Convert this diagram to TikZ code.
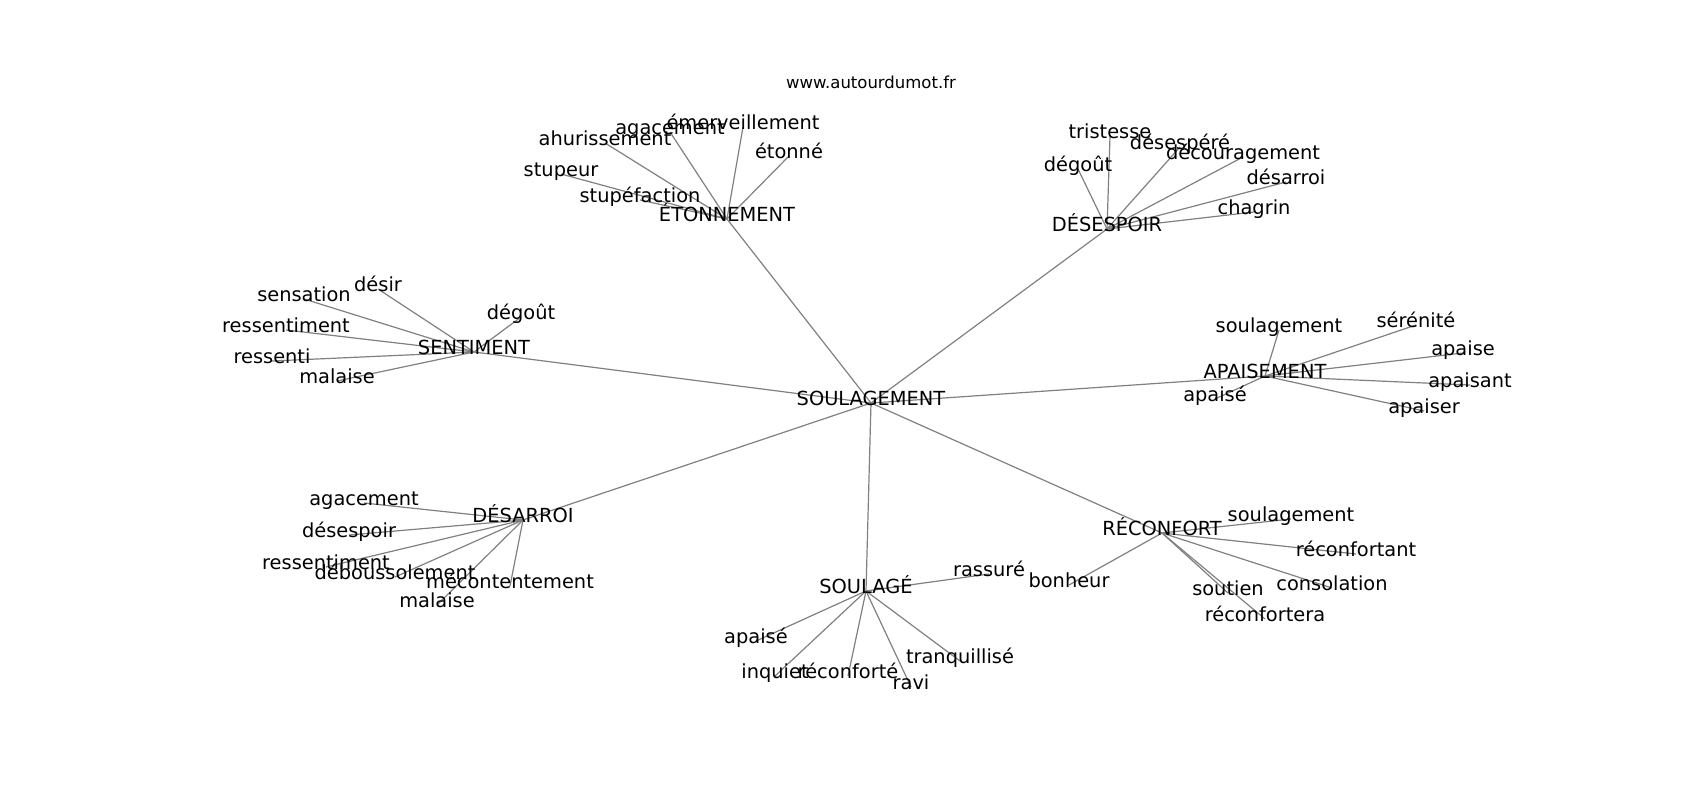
\documentclass[tikz,border=0pt]{standalone}
\usepackage{fontspec}
\setmainfont{DejaVu Sans}
\usetikzlibrary{backgrounds}
\begin{document}
\begin{tikzpicture}[x=1pt,y=-1pt,
  lbl/.style={inner sep=0pt,text height=0.66em,text depth=0.24em,font=\fontsize{19.4}{23}\selectfont,text=black},
  ttl/.style={inner sep=0pt,font=\fontsize{16.5}{20}\selectfont,text=black},
  edge/.style={draw=gray,line width=1.2pt}]
\useasboundingbox (0,0) rectangle (1700,800);
\node[ttl] (title) at (871,82) {www.autourdumot.fr};
\begin{scope}[yshift=-3pt]
% hubs
\node[lbl] (c) at (871,400) {SOULAGEMENT};
\node[lbl] (eto) at (727,216) {ÉTONNEMENT};
\node[lbl] (des) at (1107,226) {DÉSESPOIR};
\node[lbl] (sen) at (474,349) {SENTIMENT};
\node[lbl] (apa) at (1265,373) {APAISEMENT};
\node[lbl] (dsr) at (523,517) {DÉSARROI};
\node[lbl] (slg) at (866,588) {SOULAGÉ};
\node[lbl] (rec) at (1162,530) {RÉCONFORT};
% ETONNEMENT leaves
\node[lbl] (e1) at (561,171) {stupeur};
\node[lbl] (e2) at (605,140) {ahurissement};
\node[lbl] (e3) at (670,129) {agacement};
\node[lbl] (e4) at (743,124) {émerveillement};
\node[lbl] (e5) at (789,153) {étonné};
\node[lbl] (e6) at (640,197) {stupéfaction};
% DESESPOIR leaves
\node[lbl] (d1) at (1110,133) {tristesse};
\node[lbl] (d2) at (1078,166) {dégoût};
\node[lbl] (d3) at (1180,144) {désespéré};
\node[lbl] (d4) at (1243,154) {découragement};
\node[lbl] (d5) at (1286,179) {désarroi};
\node[lbl] (d6) at (1254,209) {chagrin};
% SENTIMENT leaves
\node[lbl] (s1) at (378,286) {désir};
\node[lbl] (s2) at (304,296) {sensation};
\node[lbl] (s3) at (521,314) {dégoût};
\node[lbl] (s4) at (286,327) {ressentiment};
\node[lbl] (s5) at (272,358) {ressenti};
\node[lbl] (s6) at (337,378) {malaise};
% APAISEMENT leaves
\node[lbl] (a1) at (1279,327) {soulagement};
\node[lbl] (a2) at (1416,322) {sérénité};
\node[lbl] (a3) at (1463,350) {apaise};
\node[lbl] (a4) at (1470,382) {apaisant};
\node[lbl] (a5) at (1424,408) {apaiser};
\node[lbl] (a6) at (1215,396) {apaisé};
% DESARROI leaves
\node[lbl] (r1) at (364,500) {agacement};
\node[lbl] (r2) at (349,532) {désespoir};
\node[lbl] (r3) at (326,564) {ressentiment};
\node[lbl] (r4) at (395,574) {déboussolement};
\node[lbl] (r5) at (510,583) {mécontentement};
\node[lbl] (r6) at (437,602) {malaise};
% SOULAGE leaves
\node[lbl] (g1) at (989,571) {rassuré};
\node[lbl] (g2) at (756,638) {apaisé};
\node[lbl] (g3) at (775,673) {inquiet};
\node[lbl] (g4) at (848,673) {réconforté};
\node[lbl] (g5) at (911,684) {ravi};
\node[lbl] (g6) at (960,658) {tranquillisé};
% RECONFORT leaves
\node[lbl] (f1) at (1291,516) {soulagement};
\node[lbl] (f2) at (1356,551) {réconfortant};
\node[lbl] (f3) at (1332,585) {consolation};
\node[lbl] (f4) at (1228,590) {soutien};
\node[lbl] (f5) at (1265,616) {réconfortera};
\node[lbl] (f6) at (1069,582) {bonheur};
\end{scope}
\begin{scope}[on background layer]
\foreach \a/\b in {c/eto,c/des,c/sen,c/apa,c/dsr,c/slg,c/rec,
  eto/e1,eto/e2,eto/e3,eto/e4,eto/e5,eto/e6,
  des/d1,des/d2,des/d3,des/d4,des/d5,des/d6,
  sen/s1,sen/s2,sen/s3,sen/s4,sen/s5,sen/s6,
  apa/a1,apa/a2,apa/a3,apa/a4,apa/a5,apa/a6,
  dsr/r1,dsr/r2,dsr/r3,dsr/r4,dsr/r5,dsr/r6,
  slg/g1,slg/g2,slg/g3,slg/g4,slg/g5,slg/g6,
  rec/f1,rec/f2,rec/f3,rec/f4,rec/f5,rec/f6}
  \draw[edge] (\a.center) -- (\b.center);
\end{scope}
\end{tikzpicture}
\end{document}
